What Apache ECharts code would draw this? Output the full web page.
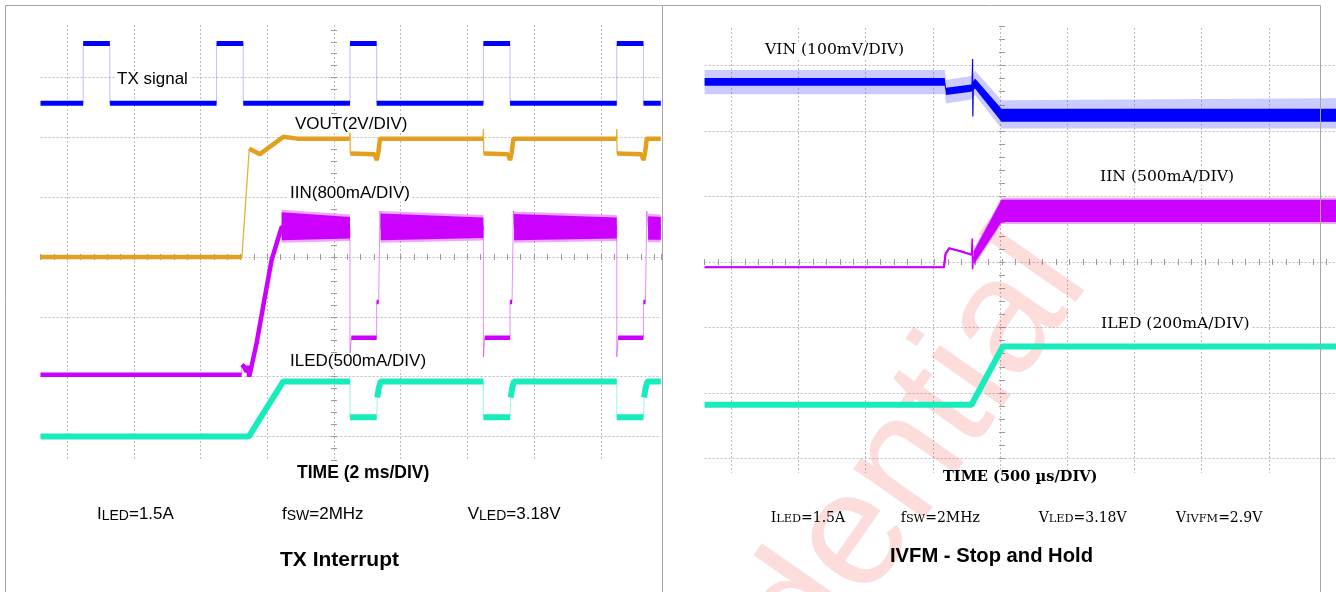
<!DOCTYPE html>
<html><head><meta charset="utf-8">
<script src="https://cdn.jsdelivr.net/npm/echarts@6/dist/echarts.min.js"></script>
<style>html,body{margin:0;padding:0;background:#fff}#c{width:1336px;height:592px}</style>
</head><body><div id="c"></div>
<script>
// ===== Left panel "TX Interrupt": x = time (ms), y = scope divisions =====
const txL = [[-8.8,2.57],[-7.52,2.57],[-7.52,3.57],[-6.72,3.57],[-6.72,2.57],[-3.52,2.57],[-3.52,3.57],[-2.72,3.57],[-2.72,2.57],[0.48,2.57],[0.48,3.57],[1.28,3.57],[1.28,2.57],[4.48,2.57],[4.48,3.57],[5.28,3.57],[5.28,2.57],[8.48,2.57],[8.48,3.57],[9.28,3.57],[9.28,2.57],[9.8,2.57]];
const voutL = [[-8.8,0],[-2.76,0],[-2.54,1.81],[-2.22,1.72],[-1.52,2.01],[-1.1,1.98],[0.47,1.98],[0.48,2.14],[0.49,1.73],[1.22,1.72],[1.28,1.62],[1.33,1.75],[1.38,1.98],[4.47,1.98],[4.48,2.14],[4.49,1.73],[5.22,1.72],[5.28,1.62],[5.33,1.75],[5.38,1.98],[8.47,1.98],[8.48,2.14],[8.49,1.73],[9.22,1.72],[9.28,1.62],[9.33,1.75],[9.38,1.98],[9.8,1.98]];
const iinL = [[-8.8,-1.97],[-2.77,-1.97],[-2.76,-1.80],[-2.70,-1.83],[-2.62,-1.92],[-2.58,-1.82],[-2.54,-2.0],[-2.32,-1.44],[-2.07,-0.66],[-1.87,-0.05],[-1.57,0.50],[0.48,0.50],[0.48,-1.67],[0.52,-1.35],[1.28,-1.35],[1.28,-0.75],[1.34,-0.75],[1.38,0.77],[1.40,0.50],[4.48,0.50],[4.48,-1.67],[4.52,-1.35],[5.28,-1.35],[5.28,-0.75],[5.34,-0.75],[5.38,0.77],[5.40,0.50],[8.48,0.50],[8.48,-1.67],[8.52,-1.35],[9.28,-1.35],[9.28,-0.75],[9.34,-0.75],[9.38,0.77],[9.42,0.50],[9.8,0.50]];
const iinBandsL = [
  [[-1.57,0.28,0.75],[0.48,0.31,0.67]],
  [[1.40,0.28,0.73],[4.48,0.32,0.66]],
  [[5.40,0.28,0.72],[8.48,0.31,0.66]],
  [[9.42,0.29,0.68],[9.8,0.29,0.67]]
];
const iledL = [[-8.8,-3.0],[-2.55,-3.0],[-1.52,-2.08],[0.48,-2.08],[0.48,-2.68],[1.28,-2.68],[1.30,-2.35],[1.34,-2.20],[1.40,-2.08],[4.48,-2.08],[4.48,-2.68],[5.28,-2.68],[5.30,-2.35],[5.34,-2.20],[5.40,-2.08],[8.48,-2.08],[8.48,-2.68],[9.28,-2.68],[9.30,-2.35],[9.34,-2.20],[9.40,-2.08],[9.8,-2.08]];

// ===== Right panel "IVFM - Stop and Hold": x = time (µs), y = scope divisions =====
const vinEnvelopeR = [[-2200,2.56,2.93],[-424,2.56,2.93],[-414,2.42,2.78],[-228,2.48,2.84],[-200,2.55,2.92],[-4,2.04,2.47],[2470,2.04,2.50]];
const vinCoreR = [[-2200,2.69,2.81],[-424,2.69,2.81],[-414,2.55,2.66],[-228,2.60,2.71],[-200,2.65,2.80],[-4,2.14,2.34],[2470,2.14,2.34]];
const vinSpikeR = [[-222,2.66],[-218,3.10],[-216,2.22],[-212,2.72]];
const iinR = [[-2200,-0.08],[-430,-0.08],[-418,0.12],[-392,0.21],[-300,0.16],[-226,0.11],[-220,0.36],[-218,-0.11],[-214,0.06],[-200,0.08]];
const iinBandR = [[-210,-0.04,0.16],[-4,0.61,0.95],[2470,0.61,0.95]];
const iledR = [[-2200,-2.18],[-226,-2.18],[6,-1.29],[2470,-1.29]];

// ===== Texts =====
const leftTraceLabels = ['TX signal','VOUT(2V/DIV)','IIN(800mA/DIV)','ILED(500mA/DIV)'];
const leftAxisTitle = 'TIME (2 ms/DIV)';
const leftCond = [['I','LED','=1.5A'],['f','SW','=2MHz'],['V','LED','=3.18V']];
const leftTitle = 'TX Interrupt';
const rightTraceLabels = ['VIN (100mV/DIV)','IIN (500mA/DIV)','ILED (200mA/DIV)'];
const rightAxisTitle = 'TIME (500 µs/DIV)';
const rightCond = [['I','LED','=1.5A'],['f','SW','=2MHz'],['V','LED','=3.18V'],['V','IVFM','=2.9V']];
const rightTitle = 'IVFM - Stop and Hold';
const watermark = 'Confidential';

// ===== helpers =====
function splitSteep(pts, xPerDiv, maxSlope){
  const out=[];
  for(let i=0;i<pts.length;i++){
    if(i>0){
      const dx=Math.abs(pts[i][0]-pts[i-1][0])/xPerDiv, dy=Math.abs(pts[i][1]-pts[i-1][1]);
      if(dy>maxSlope*dx) out.push([(pts[i][0]+pts[i-1][0])/2,null]);
    }
    out.push(pts[i]);
  }
  return out;
}
function trace(pts,color,thinW,thinOp,thickW,xi,yi,xPerDiv,z){
  return [
    {type:'line',data:pts,xAxisIndex:xi,yAxisIndex:yi,symbol:'none',silent:true,animation:false,z:z,
     lineStyle:{color:color,width:thinW,opacity:thinOp}},
    {type:'line',data:splitSteep(pts,xPerDiv,10),xAxisIndex:xi,yAxisIndex:yi,symbol:'none',silent:true,animation:false,z:z+1,
     connectNulls:false,lineStyle:{color:color,width:thickW,cap:'butt',join:'bevel'}}
  ];
}
function band(b,color,op,xi,yi,z,grow){
  const g=grow||0;
  return {type:'custom',coordinateSystem:'cartesian2d',xAxisIndex:xi,yAxisIndex:yi,silent:true,animation:false,z:z,
    data:b.map(p=>[p[0],p[1],p[2]]),encode:{x:0,y:[1,2]},
    renderItem:function(params,api){
      if(params.dataIndex!==0) return null;
      const top=b.map(p=>{const c=api.coord([p[0],p[2]]);return [c[0],c[1]-g];});
      const bot=b.map(p=>{const c=api.coord([p[0],p[1]]);return [c[0],c[1]+g];}).reverse();
      return {type:'polygon',shape:{points:top.concat(bot)},style:{fill:color,opacity:op}};
    }};
}
const GRID_C='#bdbdbd', TICK_C='#9a9a9a';
function gridAxis(g,min,max,interval,split){
  const a={type:'value',gridIndex:g,min:min,max:max,axisLabel:{show:false},axisLine:{show:false},axisTick:{show:false},
    splitLine:{show:!!split,showMinLine:false,showMaxLine:false,lineStyle:{color:GRID_C,type:[2,2],width:1}}};
  if(interval) a.interval=interval;
  return a;
}
function tickAxis(g,min,max,interval,pos){
  return {type:'value',gridIndex:g,min:min,max:max,interval:interval,position:pos,
    axisLabel:{show:false},axisLine:{show:false,onZero:true},
    axisTick:{show:true,length:3,lineStyle:{color:TICK_C,width:1}},splitLine:{show:false}};
}
const SANS='Liberation Sans', SERIF='DejaVu Serif';
function label(text,x,y,font,size,weight,bg){
  return {type:'text',x:x,y:y,z:50,silent:true,style:{text:text,fontFamily:font,fontSize:size,fontWeight:weight||'normal',fill:'#000',
    align:'left',verticalAlign:'middle',backgroundColor:bg===false?'transparent':'#fff',padding:[0,2]}};
}
function condLabel(parts,x,y,font,big,small){
  return {type:'text',x:x,y:y,z:50,silent:true,style:{
    text:'{a|'+parts[0]+'}{b|'+parts[1]+'}{a|'+parts[2]+'}',align:'left',verticalAlign:'middle',
    rich:{a:{fontFamily:font,fontSize:big,fill:'#000',verticalAlign:'bottom',lineHeight:22},
          b:{fontFamily:font,fontSize:small,fill:'#000',verticalAlign:'bottom',lineHeight:22}}}};
}

// ===== grids =====
// left: center x=334, 33.35 px/ms ; center y=257, 59.8 px/div
// right: center x=1002, 0.1352 px/µs ; center y=262, 65.5 px/div
const grids=[
  {left:0.5,top:25,width:667,height:435},          //0 left vertical grid lines
  {left:40.5,top:17.8,width:620.3,height:478.4},   //1 left horizontal grid lines
  {left:40.5,top:29.8,width:620.3,height:442.5},   //2 left data + ticks
  {left:664,top:28,width:676,height:445},          //3 right vertical grid lines
  {left:704.6,top:0,width:631.4,height:524},       //4 right horizontal grid lines
  {left:704.6,top:26.2,width:631.4,height:432.3}   //5 right data + ticks
];
const xAxes=[
  gridAxis(0,-10,10,2,true),
  gridAxis(1,-8.8,9.8,null,false),
  tickAxis(2,-8.8,9.8,0.4,'bottom'),
  tickAxis(2,-8.8,9.8,0.4,'top'),
  gridAxis(3,-2500,2500,500,true),
  gridAxis(4,-2200,2470,null,false),
  tickAxis(5,-2200,2470,100,'bottom'),
  tickAxis(5,-2200,2470,100,'top')
];
const yAxes=[
  gridAxis(0,0,1,null,false),
  gridAxis(1,-4,4,1,true),
  tickAxis(2,-3.6,3.8,0.2,'left'),
  tickAxis(2,-3.6,3.8,0.2,'right'),
  gridAxis(3,0,1,null,false),
  gridAxis(4,-4,4,1,true),
  tickAxis(5,-3,3.6,0.2,'left'),
  tickAxis(5,-3,3.6,0.2,'right')
];

const BLUE='#0000ff', ORANGE='#e3a020', MAG='#cc00ff', TEAL='#19ecbc';
let series=[];
series=series.concat(trace(txL,BLUE,1,0.25,5,2,2,2,10));
series=series.concat(trace(voutL,ORANGE,1.3,0.85,4.5,2,2,2,10));
iinBandsL.forEach(b=>{series.push(band(b,MAG,0.35,2,2,8,2.5));series.push(band(b,MAG,1,2,2,9,0));});
series=series.concat(trace(iinL,MAG,1,0.45,4.5,2,2,2,10));
series=series.concat(trace(iledL,TEAL,1,0.45,6,2,2,2,10));
series.push(band(vinEnvelopeR,'#4040ff',0.27,6,6,9));
series.push(band(vinCoreR,BLUE,1,6,6,10));
series.push({type:'line',data:vinSpikeR,xAxisIndex:6,yAxisIndex:6,symbol:'none',silent:true,animation:false,z:11,lineStyle:{color:BLUE,width:1.2}});
series.push(band(iinBandR,MAG,0.35,6,6,8,2));
series.push(band(iinBandR,MAG,1,6,6,9));
series=series.concat(trace(iinR,MAG,1.6,1,2.2,6,6,500,10));
series=series.concat(trace(iledR,TEAL,1,0.5,6,6,6,500,10));

const graphics=[
  // watermark
  {type:'text',x:805,y:610,rotation:55*Math.PI/180,z:1,silent:true,
   style:{text:watermark,fontFamily:SANS,fontSize:164,fill:'rgba(240,40,40,0.16)',align:'center',verticalAlign:'middle'}},
  // left texts
  label(leftTraceLabels[0],115,79.5,SANS,17),
  label(leftTraceLabels[1],293,124,SANS,17),
  label(leftTraceLabels[2],288,193,SANS,17),
  label(leftTraceLabels[3],288,361.5,SANS,17),
  label(leftAxisTitle,295,473,SANS,17.5,'bold'),
  condLabel(leftCond[0],97,512,SANS,17,14),
  condLabel(leftCond[1],282,512,SANS,17,14),
  condLabel(leftCond[2],467.7,512,SANS,17,14),
  label(leftTitle,278,560.5,SANS,21,'bold',false),
  // right texts
  label(rightTraceLabels[0],763,50,SERIF,15.6),
  label(rightTraceLabels[1],1098,176.7,SERIF,15.6),
  label(rightTraceLabels[2],1099,324.3,SERIF,15.6),
  label(rightAxisTitle,941,477.3,SERIF,14.6,'bold'),
  condLabel(rightCond[0],770.7,514,SERIF,14,11.3),
  condLabel(rightCond[1],900.7,514,SERIF,14,11.3),
  condLabel(rightCond[2],1038.7,514,SERIF,14,11.3),
  condLabel(rightCond[3],1176,514,SERIF,14,11.3),
  label(rightTitle,888,556.7,SANS,20.2,'bold',false),
  // panel borders
  {type:'rect',z:100,silent:true,shape:{x:5.5,y:5.5,width:657,height:620},style:{fill:'none',stroke:'#a6a6a6',lineWidth:1}},
  {type:'rect',z:100,silent:true,shape:{x:662.5,y:5.5,width:658,height:620},style:{fill:'none',stroke:'#a6a6a6',lineWidth:1}}
];

const chart=echarts.init(document.getElementById('c'),null,{renderer:'canvas'});
chart.setOption({animation:false,backgroundColor:'#fff',grid:grids,xAxis:xAxes,yAxis:yAxes,series:series,graphic:graphics});
</script></body></html>
